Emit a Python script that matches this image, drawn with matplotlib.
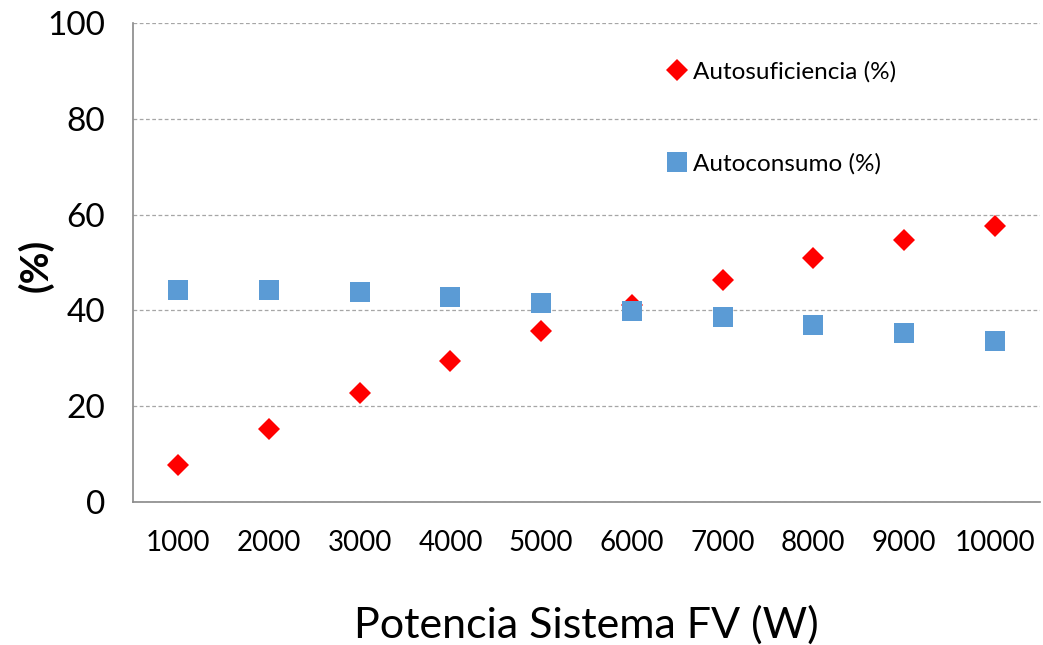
import matplotlib.pyplot as plt

plt.rcParams["font.family"] = ["Lato", "DejaVu Sans"]

# Datos
potencias = ["1000", "2000", "3000", "4000", "5000",
             "6000", "7000", "8000", "9000", "10000"]
autosuficiencia = [7.7, 15.3, 22.7, 29.5, 35.6, 41.1, 46.4, 51.0, 54.8, 57.7]
autoconsumo = [44.3, 44.3, 43.9, 42.8, 41.6, 39.9, 38.7, 37.0, 35.3, 33.6]


def main():
    fig = plt.figure(figsize=(10.43, 6.45), dpi=100)
    ax = fig.add_axes([133 / 1043, 1 - 502 / 645, 907 / 1043, 479 / 645])

    x = range(len(potencias))
    ax.plot(x, autosuficiencia, linestyle="none", marker="D", markersize=10.8,
            color="#ff0000", markeredgewidth=0, label="Autosuficiencia (%)",
            zorder=3)
    ax.plot(x, autoconsumo, linestyle="none", marker="s", markersize=13.7,
            color="#5b9bd5", markeredgewidth=0, label="Autoconsumo (%)",
            zorder=4)

    ax.set_xlim(-0.5, len(potencias) - 0.5)
    ax.set_ylim(0, 100)
    ax.set_xticks(list(x))
    ax.set_xticklabels(potencias, fontsize=20)
    ax.set_yticks([0, 20, 40, 60, 80, 100])
    ax.tick_params(axis="y", labelsize=24, length=0, pad=20)
    ax.tick_params(axis="x", length=0, pad=20)

    ax.grid(axis="y", linestyle=(0, (3, 2)), color="#a6a6a6", linewidth=0.9)
    ax.set_axisbelow(True)
    for s in ["top", "right"]:
        ax.spines[s].set_visible(False)
    for s in ["left", "bottom"]:
        ax.spines[s].set_color("#898989")
        ax.spines[s].set_linewidth(1.2)

    ax.set_xlabel("Potencia Sistema FV (W)", fontsize=31, labelpad=36)
    ax.set_ylabel("(%)", fontsize=28, fontweight="bold", va="center")
    ax.yaxis.set_label_coords(-0.108, 0.495)

    ax.legend(loc="upper left", bbox_to_anchor=(650 / 1043, 1 - 49 / 645),
              bbox_transform=fig.transFigure, frameon=False, fontsize=17.5,
              labelspacing=2.9, handletextpad=0.05, handlelength=1.2,
              borderpad=0)

    fig.savefig("out.png", dpi=100)


if __name__ == "__main__":
    main()
